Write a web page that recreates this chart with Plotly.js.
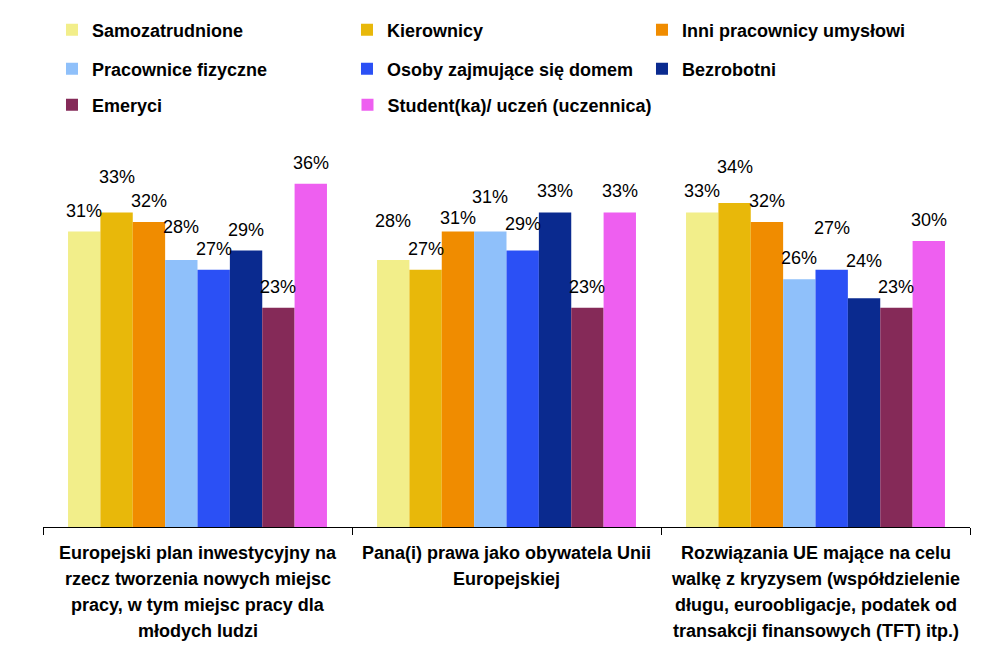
<!DOCTYPE html>
<html>
<head>
<meta charset="utf-8">
<script src="https://cdn.plot.ly/plotly-3.0.1.min.js"></script>
<style>html,body{margin:0;padding:0;background:#fff}#chart{width:1008px;height:661px}</style>
</head>
<body>
<div id="chart"></div>
<script>
// ---- data ----
const CATEGORIES = [
  'Europejski plan inwestycyjny na rzecz tworzenia nowych miejsc pracy, w tym miejsc pracy dla młodych ludzi',
  'Pana(i) prawa jako obywatela Unii Europejskiej',
  'Rozwiązania UE mające na celu walkę z kryzysem (współdzielenie długu, euroobligacje, podatek od transakcji finansowych (TFT) itp.)'
];
const CATEGORY_LINES = [
  ['Europejski plan inwestycyjny na', 'rzecz tworzenia nowych miejsc', 'pracy, w tym miejsc pracy dla', 'młodych ludzi'],
  ['Pana(i) prawa jako obywatela Unii', 'Europejskiej'],
  ['Rozwiązania UE mające na celu', 'walkę z kryzysem (współdzielenie', 'długu, euroobligacje, podatek od', 'transakcji finansowych (TFT) itp.)']
];
const SERIES = [
  'Samozatrudnione', 'Kierownicy', 'Inni pracownicy umysłowi',
  'Pracownice fizyczne', 'Osoby zajmujące się domem', 'Bezrobotni',
  'Emeryci', 'Student(ka)/ uczeń (uczennica)'
];
const samozatrudnione = [31, 28, 33];
const kierownicy = [33, 27, 34];
const inniUmyslowi = [32, 31, 32];
const pracowniceFizyczne = [28, 31, 26];
const osobyDom = [27, 29, 27];
const bezrobotni = [29, 33, 24];
const emeryci = [23, 23, 23];
const studenci = [36, 33, 30];
const VALUES = [samozatrudnione, kierownicy, inniUmyslowi, pracowniceFizyczne, osobyDom, bezrobotni, emeryci, studenci];

// ---- style ----
const COLORS = ['#f2ee8a', '#e8b80a', '#f08c00', '#8fc0fa', '#2b50f5', '#0a2a8f', '#852a58', '#ee5ff0'];
// extra vertical lift (px) of some value labels, as placed in the original to avoid overlaps
const LABEL_LIFT = [
  [0, 18, 0], [14, 0, 15], [0, -7, 0], [12, 14, 0],
  [0, 6, 21], [0, 0, 16], [0, 0, 0], [0, 0, 0]
];
const BARGAP = 0.162;
const FONT = 'Liberation Sans, Arial, sans-serif';
// legend placement: one horizontal legend per row; last row split so long text is not clipped
const LEGEND_OF = ['legend', 'legend', 'legend', 'legend2', 'legend2', 'legend2', 'legend3', 'legend4'];

const nS = SERIES.length;
const barW = (1 - BARGAP) / nS;

const traces = SERIES.map((name, i) => ({
  type: 'bar',
  name: name,
  x: CATEGORIES,
  y: VALUES[i],
  marker: {color: COLORS[i], line: {width: 0}},
  legend: LEGEND_OF[i],
  hoverinfo: 'skip'
}));

const annotations = [];
SERIES.forEach((name, i) => {
  VALUES[i].forEach((v, c) => {
    annotations.push({
      xref: 'x', yref: 'y',
      x: c - (1 - BARGAP) / 2 + (i + 0.5) * barW,
      y: v,
      text: v + '%',
      showarrow: false,
      xanchor: 'center', yanchor: 'middle',
      yshift: 21 + LABEL_LIFT[i][c],
      font: {family: FONT, size: 18, color: '#000'}
    });
  });
});
CATEGORY_LINES.forEach((lines, c) => {
  lines.forEach((t, k) => {
    annotations.push({
      xref: 'x', yref: 'paper',
      x: c, y: 0,
      text: t,
      showarrow: false,
      xanchor: 'center', yanchor: 'middle',
      yshift: -26 * (k + 1),
      font: {family: FONT, size: 18, color: '#000', weight: 'bold'}
    });
  });
});

const LEG_X0 = 0.0097;
const LEG_STEP = 295.5 / 927;
const legendBase = {
  orientation: 'h',
  xanchor: 'left', yanchor: 'middle',
  x: LEG_X0,
  entrywidth: 250, entrywidthmode: 'pixels',
  bgcolor: 'rgba(0,0,0,0)',
  font: {family: FONT, size: 18, color: '#000', weight: 'bold'}
};

const layout = {
  width: 1008, height: 661,
  margin: {l: 43, r: 38, t: 140, b: 134, pad: 0},
  paper_bgcolor: '#fff', plot_bgcolor: '#fff',
  barmode: 'group', bargap: BARGAP, bargroupgap: 0,
  showlegend: true,
  legend: Object.assign({}, legendBase, {y: (527 - 30) / 387}),
  legend2: Object.assign({}, legendBase, {y: (527 - 69) / 387}),
  legend3: Object.assign({}, legendBase, {y: (527 - 105) / 387}),
  legend4: Object.assign({}, legendBase, {x: LEG_X0 + LEG_STEP, y: (527 - 105) / 387, entrywidth: 300}),
  xaxis: {
    type: 'category',
    showticklabels: false,
    showline: true, linecolor: '#000', linewidth: 1,
    ticks: 'outside', ticklen: 7, tickcolor: '#000', tickwidth: 1,
    tickson: 'boundaries',
    showgrid: false, zeroline: false,
    range: [-0.5, 2.5]
  },
  yaxis: {
    range: [0, 40.6],
    visible: false,
    showgrid: false, zeroline: false
  },
  annotations: annotations
};

Plotly.newPlot('chart', traces, layout, {staticPlot: true, displayModeBar: false});
</script>
</body>
</html>
